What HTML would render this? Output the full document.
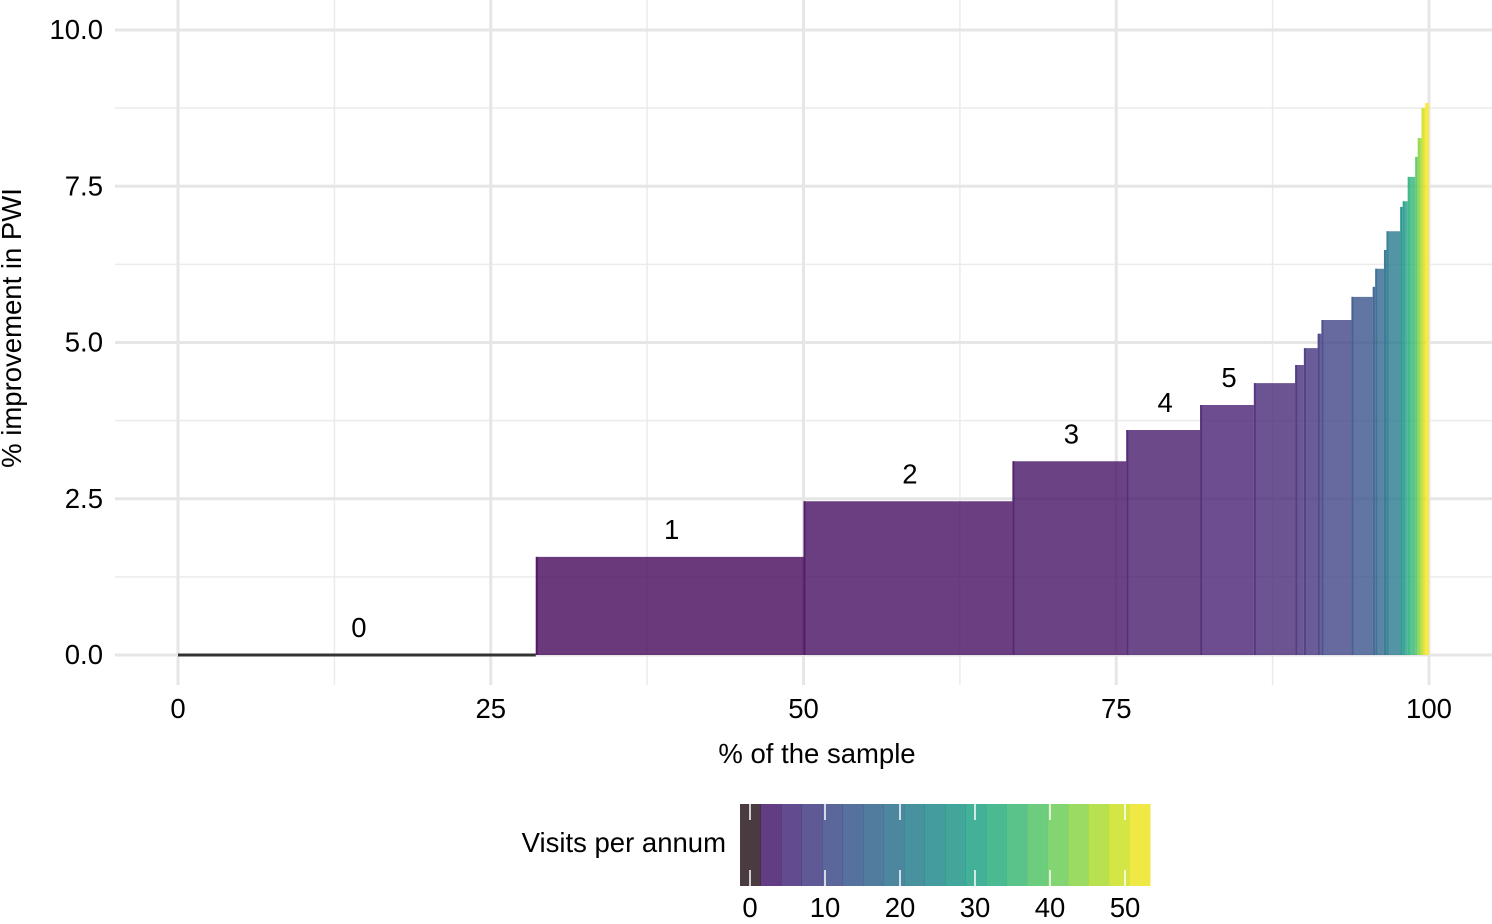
<!DOCTYPE html>
<html><head><meta charset="utf-8"><style>
body{margin:0;background:#fff}
svg text{font-family:"Liberation Sans",Arial,sans-serif;fill:#000}
</style></head><body>
<svg width="1492" height="919" viewBox="0 0 1492 919">
<g id="grid"></g>
<g id="bars"></g>
<g id="labels"></g>
<g id="axes"></g>
<text x="817" y="763" font-size="27.5" text-anchor="middle">% of the sample</text>
<text transform="translate(21,328) rotate(-90)" font-size="27.5" text-anchor="middle">% improvement in PWI</text>
<text x="726" y="852" font-size="27.5" text-anchor="end">Visits per annum</text>
<g id="legend"></g>
</svg>
<script>
// data
const ends    = [28.6,50,66.7,75.8,81.7,86.0,89.3,90.0,91.1,91.4,93.8,95.5,95.7,96.4,96.6,97.7,97.9,98.3,98.9,99.1,99.4,99.7,100];
const heights = [0,1.57,2.46,3.1,3.6,4.0,4.35,4.64,4.91,5.14,5.36,5.73,5.89,6.18,6.48,6.78,7.17,7.26,7.65,7.97,8.27,8.75,8.83];
const visits  = [0,1,2,3,4,5,6,7,8,9,11,14,16,18,20,22,26,30,35,40,45,50,54];
const stepLabels = ["0","1","2","3","4","5"];
const yTicks = [0,2.5,5,7.5,10];
const yTickLabels = ["0.0","2.5","5.0","7.5","10.0"];
const xTicks = [0,25,50,75,100];
const legendTicks = [0,10,20,30,40,50];

const NS="http://www.w3.org/2000/svg";
const X=v=>178+v*12.51, Y=v=>655-v*62.5, L=v=>750+v*7.5;
const VMAX=54;
const vir=["#440154","#482475","#414487","#355f8d","#2a788e","#21918c","#22a884","#44bf70","#7ad151","#bddf26","#fde725"];
function hex(h){return [1,3,5].map(i=>parseInt(h.substr(i,2),16));}
function viridis(t){t=Math.max(0,Math.min(1,t));const p=t*10,i=Math.min(9,Math.floor(p)),f=p-i;const a=hex(vir[i]),b=hex(vir[i+1]);return "rgb("+a.map((c,k)=>Math.round(c+(b[k]-c)*f)).join(",")+")";}
function mk(tag,attrs,parent){const e=document.createElementNS(NS,tag);for(const k in attrs)e.setAttribute(k,attrs[k]);parent.appendChild(e);return e;}
const grid=document.getElementById('grid');
for(let v=1.25;v<10;v+=2.5){const l=mk('line',{x1:115,x2:1492,y1:Y(v),y2:Y(v),stroke:'#ebebeb','stroke-width':1.5},grid);}
for(let v=12.5;v<110;v+=25){const l=mk('line',{x1:X(v),x2:X(v),y1:0,y2:685,stroke:'#ebebeb','stroke-width':1.5},grid);}
yTicks.forEach(v=>{const l=mk('line',{x1:115,x2:1492,y1:Y(v),y2:Y(v),stroke:'#e6e6e6','stroke-width':3},grid);});
xTicks.forEach(v=>{const l=mk('line',{x1:X(v),x2:X(v),y1:0,y2:685,stroke:'#e6e6e6','stroke-width':3},grid);});
const bars=document.getElementById('bars');
let start=0;
ends.forEach((e,i)=>{
  const h=heights[i];
  if(h<=0){const l=mk('line',{x1:X(start),x2:X(e),y1:Y(0),y2:Y(0),stroke:'#333','stroke-width':3},bars);
    }
  else{const c=viridis(visits[i]/VMAX);
    const r=mk('rect',{x:X(start),y:Y(h),width:X(e)-X(start),height:Y(0)-Y(h),fill:c,'fill-opacity':0.8},bars);
    
    mk('line',{x1:X(start)+1,x2:X(start)+1,y1:Y(h),y2:Y(0),stroke:c,'stroke-width':2,'stroke-opacity':0.6},bars);}
  start=e;
});
const lab=document.getElementById('labels');
let s=0;
stepLabels.forEach((t,i)=>{const cx=(X(s)+X(ends[i]))/2;const tx=mk('text',{x:cx+2,y:Y(heights[i])-18,'font-size':27.5,'text-anchor':'middle'},lab);tx.textContent=t;
  s=ends[i];});
const ax=document.getElementById('axes');
yTicks.forEach((v,i)=>{const t=mk('text',{x:103,y:Y(v)+9,'font-size':27.5,'text-anchor':'end',fill:'#000'},ax);t.textContent=yTickLabels[i];
  });
xTicks.forEach(v=>{const t=mk('text',{x:X(v),y:718,'font-size':27.5,'text-anchor':'middle'},ax);t.textContent=v;
  });
const lg=document.getElementById('legend');
const nb=20,bw=410/nb;
for(let i=0;i<nb;i++){const v=(i+0.5)*54/nb;const c=i===0?'#4a3b40':viridis(v/VMAX);
  const r=mk('rect',{x:740+i*bw,y:804,width:bw+0.5,height:82,fill:c,'fill-opacity':i===0?1:0.85},lg);
  }
legendTicks.forEach(v=>{
  mk('line',{x1:L(v),x2:L(v),y1:804,y2:820,stroke:'#fff','stroke-width':1.5},lg);
  mk('line',{x1:L(v),x2:L(v),y1:870,y2:886,stroke:'#fff','stroke-width':1.5},lg);
  const t=mk('text',{x:L(v),y:917,'font-size':27.5,'text-anchor':'middle'},lg);t.textContent=v;
  });
</script>
</body></html>
